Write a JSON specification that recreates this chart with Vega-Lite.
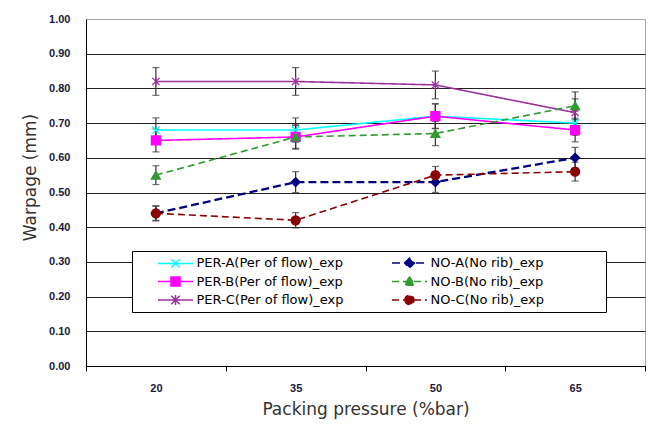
{
  "$schema": "https://vega.github.io/schema/vega-lite/v6.json",
  "width": 559,
  "height": 347,
  "autosize": {"type": "none"},
  "padding": {"left": 86, "top": 19, "right": 11, "bottom": 61},
  "background": "white",
  "config": {
    "view": {"stroke": "#a6a6a6", "strokeWidth": 1},
    "font": "Liberation Sans"
  },
  "data": {
    "values": [
      {"s": "PER-A(Per of flow)_exp", "p": 20, "v": 0.68, "e": 0.035},
      {"s": "PER-A(Per of flow)_exp", "p": 35, "v": 0.68, "e": 0.035},
      {"s": "PER-A(Per of flow)_exp", "p": 50, "v": 0.72, "e": 0.035},
      {"s": "PER-A(Per of flow)_exp", "p": 65, "v": 0.70, "e": 0.035},
      {"s": "PER-B(Per of flow)_exp", "p": 20, "v": 0.65, "e": 0.033},
      {"s": "PER-B(Per of flow)_exp", "p": 35, "v": 0.66, "e": 0.033},
      {"s": "PER-B(Per of flow)_exp", "p": 50, "v": 0.72, "e": 0.036},
      {"s": "PER-B(Per of flow)_exp", "p": 65, "v": 0.68, "e": 0.034},
      {"s": "PER-C(Per of flow)_exp", "p": 20, "v": 0.82, "e": 0.04},
      {"s": "PER-C(Per of flow)_exp", "p": 35, "v": 0.82, "e": 0.04},
      {"s": "PER-C(Per of flow)_exp", "p": 50, "v": 0.81, "e": 0.04},
      {"s": "PER-C(Per of flow)_exp", "p": 65, "v": 0.73, "e": 0.04},
      {"s": "NO-A(No rib)_exp", "p": 20, "v": 0.44, "e": 0.02},
      {"s": "NO-A(No rib)_exp", "p": 35, "v": 0.53, "e": 0.03},
      {"s": "NO-A(No rib)_exp", "p": 50, "v": 0.53, "e": 0.03},
      {"s": "NO-A(No rib)_exp", "p": 65, "v": 0.60, "e": 0.03},
      {"s": "NO-B(No rib)_exp", "p": 20, "v": 0.55, "e": 0.027},
      {"s": "NO-B(No rib)_exp", "p": 35, "v": 0.66, "e": 0.035},
      {"s": "NO-B(No rib)_exp", "p": 50, "v": 0.67, "e": 0.035},
      {"s": "NO-B(No rib)_exp", "p": 65, "v": 0.75, "e": 0.04},
      {"s": "NO-C(No rib)_exp", "p": 20, "v": 0.44, "e": 0.022},
      {"s": "NO-C(No rib)_exp", "p": 35, "v": 0.42, "e": 0.022},
      {"s": "NO-C(No rib)_exp", "p": 50, "v": 0.55, "e": 0.025},
      {"s": "NO-C(No rib)_exp", "p": 65, "v": 0.56, "e": 0.027}
    ]
  },
  "encoding": {
    "x": {
      "field": "p",
      "type": "quantitative",
      "scale": {"domain": [12.5, 72.5], "nice": false, "zero": false},
      "axis": {
        "values": [12.5, 27.5, 42.5, 57.5, 72.5],
        "labelExpr": "datum.value < 70 ? format(datum.value + 7.5, 'd') : ''",
        "labelOffset": 69.9,
        "labelOverlap": false,
        "labelBound": false,
        "labelFlush": false,
        "grid": false,
        "ticks": true,
        "tickSize": 5,
        "tickColor": "#000",
        "domainColor": "#000",
        "labelFont": "Liberation Sans",
        "labelFontWeight": "bold",
        "labelFontSize": 11,
        "labelColor": "#1a1a3a",
        "labelPadding": 11,
        "title": "Packing pressure (%bar)",
        "titleFont": "DejaVu Sans",
        "titleFontSize": 17,
        "titleFontWeight": "normal",
        "titleColor": "#333",
        "titlePadding": 8
      }
    },
    "y": {
      "field": "v",
      "type": "quantitative",
      "scale": {"domain": [0, 1], "nice": false},
      "axis": {
        "values": [0, 0.1, 0.2, 0.3, 0.4, 0.5, 0.6, 0.7, 0.8, 0.9, 1.0],
        "format": ".2f",
        "grid": true,
        "gridColor": {"condition": {"test": "datum.value >= 0.99", "value": "#a6a6a6"}, "value": "#222"},
        "gridWidth": 1,
        "ticks": false,
        "domainColor": "#000",
        "labelFont": "Liberation Sans",
        "labelFontWeight": "bold",
        "labelFontSize": 11,
        "labelColor": "#1a1a3a",
        "labelPadding": 16,
        "title": "Warpage (mm)",
        "titleFont": "DejaVu Sans",
        "titleFontSize": 17,
        "titleFontWeight": "normal",
        "titleColor": "#333",
        "titlePadding": 9,
        "titleY": 158
      }
    }
  },
  "layer": [
    {
      "mark": {"type": "line"},
      "encoding": {
        "color": {
          "field": "s",
          "type": "nominal",
          "scale": {
            "domain": ["PER-A(Per of flow)_exp", "PER-B(Per of flow)_exp", "PER-C(Per of flow)_exp", "NO-A(No rib)_exp", "NO-B(No rib)_exp", "NO-C(No rib)_exp"],
            "range": ["#00ffff", "#ff00ff", "#993399", "#000080", "#339933", "#8b0000"]
          },
          "legend": {
            "orient": "none",
            "legendX": 46,
            "legendY": 232,
            "title": "\u00a0",
            "titleOrient": "right",
            "titlePadding": 58,
            "titleFontSize": 8,
            "columns": 2,
            "columnPadding": 26,
            "rowPadding": 2.5,
            "padding": 4,
            "fillColor": "white",
            "strokeColor": "#000",
            "labelFont": "DejaVu Sans",
            "labelFontSize": 13,
            "labelColor": "#000",
            "labelOffset": 13,
            "labelLimit": 300,
            "symbolSize": 196,
            "symbolOffset": 31.5,
            "encode": {
              "symbols": {
                "update": {
                  "shape": {"signal": "['M-2.5,0H2.5M-0.6,-0.6L0.6,0.6M-0.6,0.6L0.6,-0.6', 'M-2.5,0H2.5M-0.65,-0.65H0.65V0.65H-0.65Z', 'M-2.5,0H2.5M-0.6,-0.6L0.6,0.6M-0.6,0.6L0.6,-0.6M0,-0.7V0.7', 'M-2.5,0H2.5M-0.7,0L0,-0.7L0.7,0L0,0.7Z', 'M-2.5,0H2.5M0,-0.7L0.7,0.55L-0.7,0.55Z', 'M-2.5,0H2.5M-0.65,0A0.65,0.65 0 1,0 0.65,0A0.65,0.65 0 1,0 -0.65,0Z'][indexof(domain('color'), datum.value)]"},
                  "size": {"value": 196},
                  "fill": {"signal": "scale('color', datum.value)"},
                  "stroke": {"signal": "scale('color', datum.value)"},
                  "strokeWidth": {"value": 1.5},
                  "opacity": {"value": 1},
                  "fillOpacity": {"value": 1}
                }
              }
            }
          }
        },
        "strokeDash": {
          "field": "s",
          "type": "nominal",
          "scale": {
            "domain": ["PER-A(Per of flow)_exp", "PER-B(Per of flow)_exp", "PER-C(Per of flow)_exp", "NO-A(No rib)_exp", "NO-B(No rib)_exp", "NO-C(No rib)_exp"],
            "range": [[1, 0], [1, 0], [1, 0], [8, 4], [7, 4], [7, 4]]
          },
          "legend": null
        },
        "strokeWidth": {
          "condition": {"test": "datum.s == 'NO-A(No rib)_exp'", "value": 2.3},
          "value": 1.6
        }
      }
    },
    {
      "mark": {
        "type": "errorbar",
        "color": "#333",
        "ticks": {"size": 7, "thickness": 1.2, "color": "#333"},
        "rule": {"strokeWidth": 1.2, "color": "#333"}
      },
      "encoding": {
        "yError": {"field": "e"}
      }
    },
    {
      "mark": {"type": "point", "filled": true, "size": 80, "strokeWidth": 1.3, "opacity": 1},
      "encoding": {
        "color": {"field": "s", "type": "nominal"},
        "stroke": {
          "condition": [
            {"test": "datum.s == 'PER-A(Per of flow)_exp'", "value": "#00ffff"},
            {"test": "datum.s == 'PER-B(Per of flow)_exp'", "value": "#ff00ff"},
            {"test": "datum.s == 'PER-C(Per of flow)_exp'", "value": "#993399"},
            {"test": "datum.s == 'NO-A(No rib)_exp'", "value": "#000080"},
            {"test": "datum.s == 'NO-B(No rib)_exp'", "value": "#339933"}
          ],
          "value": "#8b0000"
        },
        "shape": {
          "condition": [
            {"test": "datum.s == 'PER-A(Per of flow)_exp'", "value": "M-0.8,-0.8L0.8,0.8M-0.8,0.8L0.8,-0.8"},
            {"test": "datum.s == 'PER-B(Per of flow)_exp'", "value": "square"},
            {"test": "datum.s == 'PER-C(Per of flow)_exp'", "value": "M-0.8,-0.8L0.8,0.8M-0.8,0.8L0.8,-0.8M0,-1V1"},
            {"test": "datum.s == 'NO-A(No rib)_exp'", "value": "diamond"},
            {"test": "datum.s == 'NO-B(No rib)_exp'", "value": "triangle-up"}
          ],
          "value": "circle"
        }
      }
    }
  ]
}
